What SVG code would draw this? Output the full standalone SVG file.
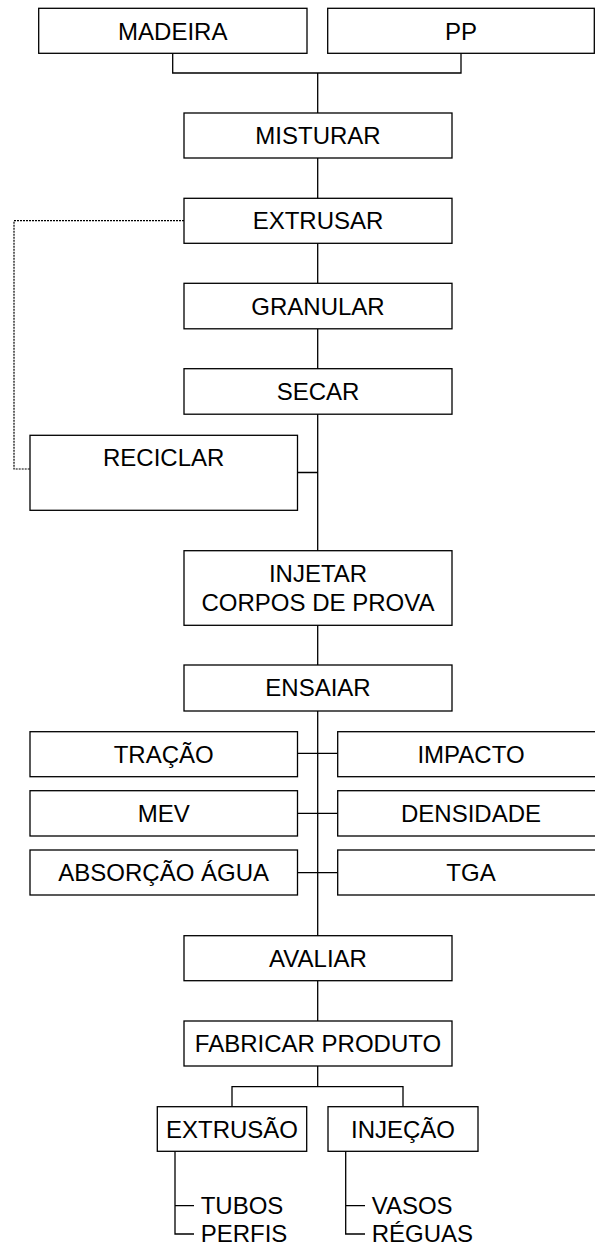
<svg xmlns="http://www.w3.org/2000/svg" width="595" height="1246" viewBox="0 0 595 1246">
<style>
.b{fill:#fff;stroke:#000;stroke-width:1.3}
.t{font-family:"Liberation Sans",Arial,sans-serif;font-size:24px;fill:#000;text-anchor:middle}
.l{font-family:"Liberation Sans",Arial,sans-serif;font-size:24px;fill:#000;text-anchor:start}
.c{fill:none;stroke:#000;stroke-width:1.3}
.d{fill:none;stroke:#000;stroke-width:1.2;stroke-dasharray:2 1}
</style>
<rect width="595" height="1246" fill="#fff"/>
<g id="connectors">
<path class="c" d="M172.7,53.3V73H461V53.3M317.7,73V113"/>
<path class="c" d="M317.7,158V198M317.7,243V283M317.7,329V369M317.7,414V551M297.5,472.5H317.7"/>
<path class="c" d="M317.7,625V665M317.7,711V935.7M297.5,753.3H337.7M297.5,813.3H337.7M297.5,872.7H337.7"/>
<path class="c" d="M317.7,980.7V1021M317.7,1066V1086.7M232,1106.7V1086.7H403V1106.7"/>
<path class="c" d="M175,1151.3V1234H194M175,1205.7H194M345.7,1151.3V1234H365M345.7,1205.7H365"/>
<path class="d" d="M184,220.7H14V469H30"/>
</g>
<g id="madeira"><rect class="b" x="38.7" y="8.3" width="268.3" height="45"/><text class="t" x="172.8" y="39.5">MADEIRA</text></g>
<g id="pp"><rect class="b" x="327.7" y="8.3" width="266.6" height="45"/><text class="t" x="461" y="39.5">PP</text></g>
<g id="misturar"><rect class="b" x="184" y="113" width="268" height="45"/><text class="t" x="318" y="144">MISTURAR</text></g>
<g id="extrusar"><rect class="b" x="184" y="198.3" width="268" height="45"/><text class="t" x="318" y="229.3">EXTRUSAR</text></g>
<g id="granular"><rect class="b" x="184" y="283.3" width="268" height="45.5"/><text class="t" x="318" y="314.5">GRANULAR</text></g>
<g id="secar"><rect class="b" x="184" y="368.7" width="268" height="45.5"/><text class="t" x="318" y="399.8">SECAR</text></g>
<g id="reciclar"><rect class="b" x="30" y="435.3" width="267.5" height="75"/><text class="t" x="163.7" y="466">RECICLAR</text></g>
<g id="injetar"><rect class="b" x="184" y="550.7" width="268" height="74.6"/><text class="t" x="318" y="581.7">INJETAR</text><text class="t" x="318" y="610.7">CORPOS DE PROVA</text></g>
<g id="ensaiar"><rect class="b" x="184" y="665" width="268" height="46"/><text class="t" x="318" y="696">ENSAIAR</text></g>
<g id="tracao"><rect class="b" x="30" y="731.7" width="267.5" height="45"/><text class="t" x="163.7" y="762.7">TRAÇÃO</text></g>
<g id="impacto"><rect class="b" x="337.7" y="731.7" width="267" height="45"/><text class="t" x="471" y="762.7">IMPACTO</text></g>
<g id="mev"><rect class="b" x="30" y="790.7" width="267.5" height="45.3"/><text class="t" x="163.7" y="821.8">MEV</text></g>
<g id="densidade"><rect class="b" x="337.7" y="790.7" width="267" height="45.3"/><text class="t" x="471" y="821.8">DENSIDADE</text></g>
<g id="absorcao"><rect class="b" x="30" y="850" width="267.5" height="45"/><text class="t" x="163.7" y="881">ABSORÇÃO ÁGUA</text></g>
<g id="tga"><rect class="b" x="337.7" y="850" width="267" height="45"/><text class="t" x="471" y="881">TGA</text></g>
<g id="avaliar"><rect class="b" x="184" y="935.7" width="268" height="45"/><text class="t" x="318" y="966.7">AVALIAR</text></g>
<g id="fabricar"><rect class="b" x="184" y="1021" width="268" height="45"/><text class="t" x="318" y="1052">FABRICAR PRODUTO</text></g>
<g id="extrusao"><rect class="b" x="157.3" y="1106.7" width="149.4" height="44.6"/><text class="t" x="232" y="1137.5">EXTRUSÃO</text></g>
<g id="injecao"><rect class="b" x="328" y="1106.7" width="150" height="44.6"/><text class="t" x="403" y="1137.5">INJEÇÃO</text></g>
<g id="tubos"><text class="l" x="200.7" y="1214">TUBOS</text></g>
<g id="perfis"><text class="l" x="200.7" y="1242">PERFIS</text></g>
<g id="vasos"><text class="l" x="371.7" y="1214">VASOS</text></g>
<g id="reguas"><text class="l" x="371.7" y="1242">RÉGUAS</text></g>
</svg>
